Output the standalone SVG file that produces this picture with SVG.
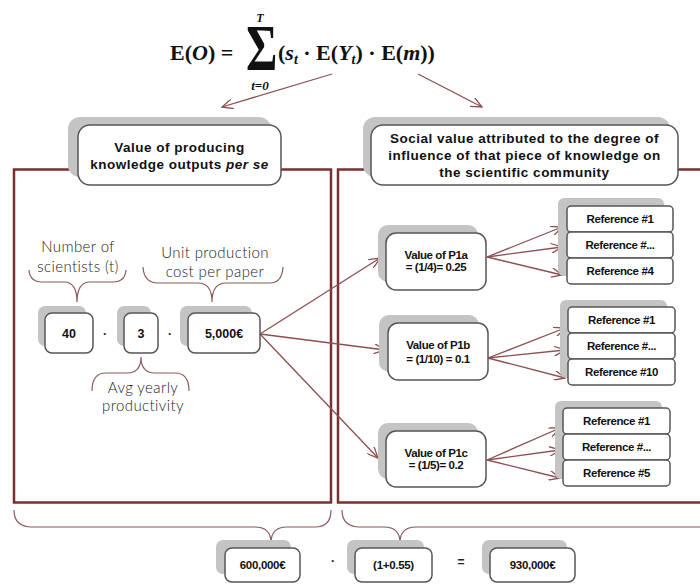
<svg xmlns="http://www.w3.org/2000/svg" width="700" height="588" viewBox="0 0 700 588">
<style>
.frame{fill:none;stroke:#7a3030;stroke-width:2.5}
.shadow{fill:#c4c4c4}
.box{fill:#fff;stroke:#555;stroke-width:1.5}
.conn{fill:none;stroke:#8c4f4f;stroke-width:1.3}
.brace{fill:none;stroke:#8c5a5a;stroke-width:1.2}
.hdr{font-family:"Liberation Sans",Arial,sans-serif;font-weight:bold;font-size:13.5px;fill:#111;text-anchor:middle;letter-spacing:0.5px}
.lbl{font-family:"Liberation Sans",Arial,sans-serif;font-weight:bold;font-size:11.5px;fill:#111;text-anchor:middle;letter-spacing:-0.4px}
.num{font-family:"Liberation Sans",Arial,sans-serif;font-weight:bold;font-size:12.5px;fill:#111;text-anchor:middle}
.num2{font-family:"Liberation Sans",Arial,sans-serif;font-weight:bold;font-size:11.5px;fill:#111;text-anchor:middle;letter-spacing:-0.3px}
.lt{font-family:Lato,"Open Sans",sans-serif;font-weight:300;font-size:15px;fill:#222;text-anchor:middle;letter-spacing:0.4px}
.op{font-family:"Liberation Sans",Arial,sans-serif;font-weight:bold;font-size:12px;fill:#222;text-anchor:middle}
.math{font-family:"Liberation Serif","Times New Roman",serif;font-weight:bold;fill:#111}
</style>
<defs>
<marker id="ah" viewBox="0 0 12 10" refX="11" refY="5" markerWidth="12" markerHeight="10" markerUnits="userSpaceOnUse" orient="auto">
<path d="M0,0 L11,5 L0,10" fill="none" stroke="#8c4f4f" stroke-width="1.3"/>
</marker>
</defs>

<g id="formula">
<text class="math" x="170" y="60" font-size="22">E(<tspan font-style="italic">O</tspan>) =</text>
<text class="math" x="246" y="0" font-size="48" transform="translate(0,70) scale(1,1.35)">Σ</text>
<text class="math" x="260" y="22" font-size="12" font-style="italic" text-anchor="middle">T</text>
<text class="math" x="260" y="90" font-size="13" font-style="italic" text-anchor="middle">t=0</text>
<text class="math" x="278" y="60" font-size="22">(<tspan font-style="italic">s</tspan><tspan font-style="italic" font-size="14" dy="4">t</tspan><tspan dy="-4"> · E(</tspan><tspan font-style="italic">Y</tspan><tspan font-style="italic" font-size="14" dy="4">t</tspan><tspan dy="-4">) · E(</tspan><tspan font-style="italic">m</tspan>))</text>
</g>

<g id="frames">
<rect class="frame" x="14" y="169.5" width="317" height="333"/>
<rect class="frame" x="338" y="169.5" width="370" height="333"/>
</g>

<g id="connectors">
<line class="conn" x1="332" y1="74" x2="222" y2="107" marker-end="url(#ah)"/>
<line class="conn" x1="418" y1="74" x2="482" y2="107" marker-end="url(#ah)"/>
<line class="conn" x1="260" y1="334" x2="380" y2="258" marker-end="url(#ah)"/>
<line class="conn" x1="260" y1="334" x2="385" y2="350" marker-end="url(#ah)"/>
<line class="conn" x1="260" y1="334" x2="378" y2="458" marker-end="url(#ah)"/>
<line class="conn" x1="487" y1="257" x2="562" y2="227" marker-end="url(#ah)"/>
<line class="conn" x1="487" y1="257" x2="562" y2="247" marker-end="url(#ah)"/>
<line class="conn" x1="487" y1="257" x2="562" y2="275" marker-end="url(#ah)"/>
<line class="conn" x1="488" y1="358" x2="565" y2="328" marker-end="url(#ah)"/>
<line class="conn" x1="488" y1="358" x2="565" y2="350" marker-end="url(#ah)"/>
<line class="conn" x1="488" y1="358" x2="565" y2="378" marker-end="url(#ah)"/>
<line class="conn" x1="487" y1="460" x2="560" y2="428" marker-end="url(#ah)"/>
<line class="conn" x1="487" y1="460" x2="560" y2="450" marker-end="url(#ah)"/>
<line class="conn" x1="487" y1="460" x2="560" y2="478" marker-end="url(#ah)"/>
</g>

<g id="braces">
<path class="brace" d="M29,270 Q30,282 42,282 L64,282 Q77,282 77,302 Q77,282 90,282 L113,282 Q125,282 126,270"/>
<path class="brace" d="M143,267 Q144,283 158,283 L198,283 Q212,283 212,302 Q212,283 226,283 L270,283 Q282,283 283,267"/>
<path class="brace" d="M92,391 Q92,373 106,373 L127,373 Q141,373 141,357 Q141,373 155,373 L175,373 Q189,373 189,391"/>
<path class="brace" d="M14,510 Q14,527 32,527 L255,527 Q271,527 271,543 Q271,527 287,527 L315,527 Q331,527 331,510"/>
<path class="brace" d="M342,510 Q342,527 360,527 L384,527 Q400,527 400,543 Q400,527 416,527 L705,527"/>
</g>

<g id="header-left">
<rect class="shadow" x="68" y="117" width="203" height="60" rx="12"/>
<rect class="box" x="78" y="125" width="203" height="60" rx="12"/>
<text class="hdr" x="179.5" y="152">Value of producing</text>
<text class="hdr" x="179.5" y="169">knowledge outputs <tspan font-style="italic">per se</tspan></text>
</g>

<g id="header-right">
<rect class="shadow" x="363" y="117" width="307" height="60" rx="12"/>
<rect class="box" x="371" y="125" width="307" height="60" rx="12"/>
<text class="hdr" x="524.5" y="143">Social value attributed to the degree of</text>
<text class="hdr" x="524.5" y="160">influence of that piece of knowledge on</text>
<text class="hdr" x="524.5" y="177">the scientific community</text>
</g>

<g id="label-scientists">
<text class="lt" x="78" y="252">Number of</text>
<text class="lt" x="78" y="272">scientists (t)</text>
</g>
<g id="label-cost">
<text class="lt" x="215" y="258">Unit production</text>
<text class="lt" x="215" y="277">cost per paper</text>
</g>
<g id="label-productivity">
<text class="lt" x="143" y="393">Avg yearly</text>
<text class="lt" x="143" y="411">productivity</text>
</g>

<g id="n40">
<rect class="shadow" x="38" y="306" width="48" height="40" rx="7"/>
<rect class="box" x="45" y="313" width="48" height="40" rx="7"/>
<text class="num" x="69" y="338">40</text>
</g>
<text class="op" x="105" y="338">·</text>
<g id="n3">
<rect class="shadow" x="117" y="306" width="34" height="40" rx="7"/>
<rect class="box" x="124" y="313" width="34" height="40" rx="7"/>
<text class="num" x="141" y="338">3</text>
</g>
<text class="op" x="170" y="338">·</text>
<g id="n5000">
<rect class="shadow" x="180" y="306" width="72" height="40" rx="7"/>
<rect class="box" x="188" y="313" width="72" height="40" rx="7"/>
<text class="num" x="224" y="338">5,000€</text>
</g>

<g id="p1a">
<rect class="shadow" x="378" y="225" width="100" height="57" rx="10"/>
<rect class="box" x="386" y="233" width="100" height="57" rx="10"/>
<text class="lbl" x="436" y="259">Value of P1a</text>
<text class="lbl" x="436" y="271">= (1/4)= 0.25</text>
</g>
<g id="p1b">
<rect class="shadow" x="379" y="315" width="100" height="57" rx="10"/>
<rect class="box" x="388" y="323" width="100" height="57" rx="10"/>
<text class="lbl" x="438" y="349">Value of P1b</text>
<text class="lbl" x="438" y="363">= (1/10) = 0.1</text>
</g>
<g id="p1c">
<rect class="shadow" x="378" y="423" width="100" height="56" rx="10"/>
<rect class="box" x="386" y="431" width="100" height="56" rx="10"/>
<text class="lbl" x="436" y="457">Value of P1c</text>
<text class="lbl" x="436" y="469">= (1/5)= 0.2</text>
</g>

<g id="refs-a">
<rect class="shadow" x="558" y="198" width="106" height="78" rx="6"/>
<rect class="box" x="567" y="206" width="106" height="26" rx="4"/>
<rect class="box" x="567" y="232" width="106" height="26" rx="4"/>
<rect class="box" x="567" y="258" width="106" height="26" rx="4"/>
<text class="lbl" x="620" y="223">Reference #1</text>
<text class="lbl" x="620" y="249">Reference #...</text>
<text class="lbl" x="620" y="275">Reference #4</text>
</g>
<g id="refs-b">
<rect class="shadow" x="560" y="300" width="107" height="78" rx="6"/>
<rect class="box" x="568" y="307" width="107" height="26" rx="4"/>
<rect class="box" x="568" y="333" width="107" height="26" rx="4"/>
<rect class="box" x="568" y="359" width="107" height="26" rx="4"/>
<text class="lbl" x="621.5" y="324">Reference #1</text>
<text class="lbl" x="621.5" y="350">Reference #...</text>
<text class="lbl" x="621.5" y="376">Reference #10</text>
</g>
<g id="refs-c">
<rect class="shadow" x="555" y="401" width="107" height="78" rx="6"/>
<rect class="box" x="563" y="408" width="107" height="26" rx="4"/>
<rect class="box" x="563" y="434" width="107" height="26" rx="4"/>
<rect class="box" x="563" y="460" width="107" height="26" rx="4"/>
<text class="lbl" x="616.5" y="425">Reference #1</text>
<text class="lbl" x="616.5" y="451">Reference #...</text>
<text class="lbl" x="616.5" y="477">Reference #5</text>
</g>

<g id="total-600000">
<rect class="shadow" x="216" y="540" width="75" height="34" rx="7"/>
<rect class="box" x="225" y="548" width="75" height="34" rx="7"/>
<text class="num2" x="262.5" y="569">600,000€</text>
</g>
<text class="op" x="333" y="565">·</text>
<g id="factor">
<rect class="shadow" x="347" y="540" width="77" height="34" rx="7"/>
<rect class="box" x="355" y="548" width="77" height="34" rx="7"/>
<text class="num2" x="393.5" y="569">(1+0.55)</text>
</g>
<text class="op" x="461" y="566">=</text>
<g id="result">
<rect class="shadow" x="482" y="540" width="85" height="34" rx="7"/>
<rect class="box" x="490" y="548" width="85" height="34" rx="7"/>
<text class="num2" x="532.5" y="569">930,000€</text>
</g>
</svg>
